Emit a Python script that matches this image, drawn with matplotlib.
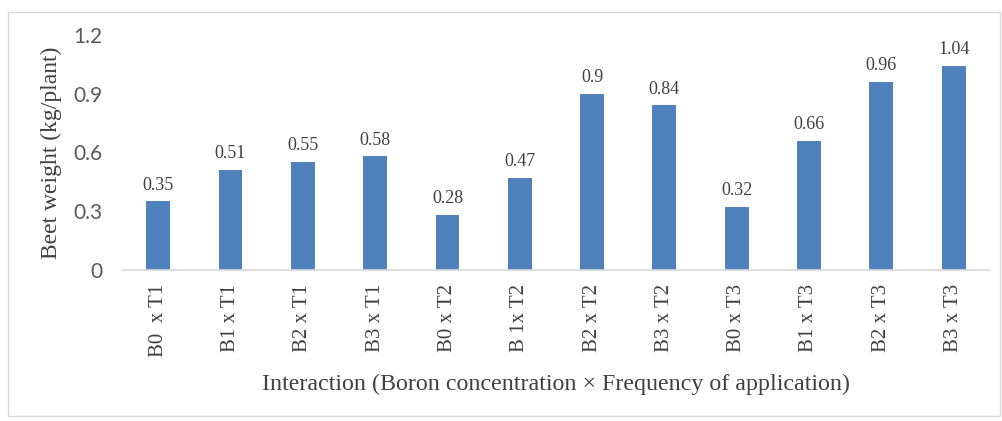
import matplotlib.pyplot as plt
from matplotlib.patches import Rectangle

# data
labels = ['B0  x T1', 'B1 x T1', 'B2 x T1', 'B3 x T1', 'B0 x T2', 'B 1x T2',
          'B2 x T2', 'B3 x T2', 'B0 x T3', 'B1 x T3', 'B2 x T3', 'B3 x T3']
weights = [0.35, 0.51, 0.55, 0.58, 0.28, 0.47, 0.9, 0.84, 0.32, 0.66, 0.96, 1.04]
yticks = [0, 0.3, 0.6, 0.9, 1.2]

serif = ['Liberation Serif', 'DejaVu Serif']

fig = plt.figure(figsize=(10.02, 4.21), dpi=100)
ax = fig.add_axes([0.1218, 0.3587, 0.866, 0.5582])

x = list(range(len(labels)))
bars = ax.bar(x, weights, width=0.33, color='#4F81BD', zorder=2)

# value labels above bars
for xi, v in zip(x, weights):
    ax.text(xi, v + 0.04, f'{v:g}', ha='center', va='bottom',
            fontsize=13, family=serif, color='#404040')

ax.set_xlim(-0.5, len(labels) - 0.5)
ax.set_ylim(0, 1.2)
ax.set_yticks(yticks)
ax.set_yticklabels([f'{t:g}' for t in yticks], fontsize=15, family='Lato', color='#595959')
ax.set_xticks(x)
ax.set_xticklabels(labels, rotation=90, fontsize=15, family=serif, color='#404040')
ax.tick_params(axis='both', length=0)
ax.tick_params(axis='x', pad=10)
ax.tick_params(axis='y', pad=14)

for s in ['top', 'right', 'left']:
    ax.spines[s].set_visible(False)
ax.spines['bottom'].set_color('#D9D9D9')
ax.spines['bottom'].set_linewidth(1.2)

ax.set_ylabel('Beet weight (kg/plant)', fontsize=17, family=serif, color='#404040', labelpad=8)
ax.set_xlabel('Interaction (Boron concentration \u00d7 Frequency of application)',
              fontsize=17.3, family=serif, color='#404040', labelpad=12)

# chart border
fig.patches.append(Rectangle((0.008, 0.012), 0.99, 0.96, transform=fig.transFigure,
                             fill=False, edgecolor='#D9D9D9', linewidth=1))

plt.savefig('out.png', dpi=100)
